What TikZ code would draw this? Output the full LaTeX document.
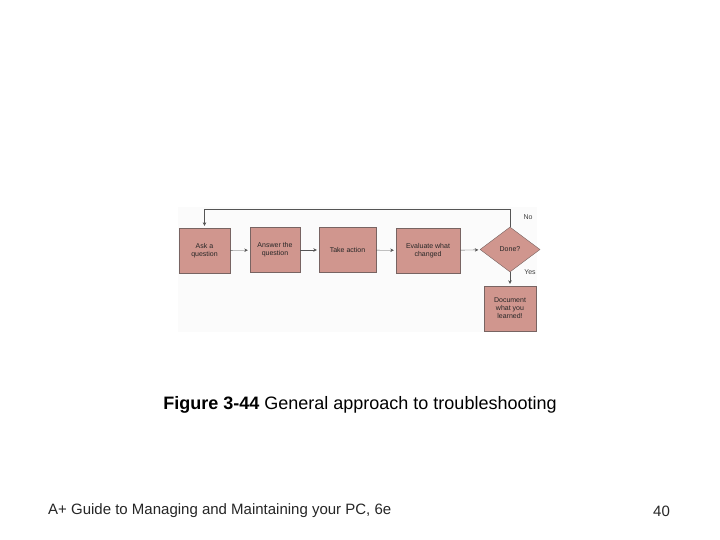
\documentclass[tikz,border=0pt]{standalone}
\usepackage{fontspec}
\setmainfont{Liberation Sans}
\usetikzlibrary{arrows.meta,shapes.geometric}
\definecolor{boxfill}{RGB}{208,150,142}
\definecolor{boxline}{RGB}{120,100,98}
\definecolor{flowline}{RGB}{85,85,85}
\definecolor{panel}{RGB}{251,251,251}
\begin{document}
\begin{tikzpicture}[x=1pt,y=-1pt,>={Stealth[length=3.5pt,width=3.5pt]},
  blok/.style={draw=boxline,fill=boxfill,minimum height=45pt,inner sep=0pt,align=center,text=black!85,font=\fontsize{7}{8}\selectfont},
  ruit/.style={diamond,draw=boxline,fill=boxfill,minimum width=60pt,minimum height=45pt,inner sep=0pt,text=black!85,font=\fontsize{7}{8}\selectfont},
  flow/.style={draw=flowline,->,shorten >=2pt},
  tag/.style={text=black!75,font=\fontsize{7}{8}\selectfont}]
\useasboundingbox (0,0) rectangle (720,540);
\fill[white] (0,0) rectangle (720,540);
\fill[panel] (178,207) rectangle (537,332);
% flow chart
\node[blok,minimum width=51pt] (ask) at (204.5,250.5) {Ask a\\question};
\node[blok,minimum width=50pt] (answer) at (275,250) {Answer the\\question};
\node[blok,minimum width=57pt] (act) at (347.5,250) {Take action};
\node[blok,minimum width=64pt] (eval) at (428,250.5) {Evaluate what\\changed};
\node[ruit] (done) at (510,249.5) {Done?};
\node[blok,minimum width=52pt] (doc) at (510,308.5) {Document\\what you\\learned!};
\draw[flow] (ask) -- (answer);
\draw[flow] (answer) -- (act);
\draw[flow] (act) -- (eval);
\draw[flow] (eval) -- (done);
\draw[flow] (done) -- (doc);
\coordinate (loop) at (204.5,209);
\draw[flow] (done.north) |- (loop) -- (ask.north);
\node[tag] (no) at (528,217) {No};
\node[tag] (yes) at (530,272) {Yes};
% caption and footer
\node[font=\fontsize{18}{21}\selectfont] (caption) at (360,405) {\textbf{Figure 3-44} General approach to troubleshooting};
\node[anchor=west,inner sep=0pt,text=black!85,font=\fontsize{15}{18}\selectfont] (footer) at (48,511) {A+ Guide to Managing and Maintaining your PC, 6e};
\node[anchor=west,inner sep=0pt,text=black!85,font=\fontsize{15}{18}\selectfont] (page) at (653,511) {40};
\end{tikzpicture}
\end{document}
